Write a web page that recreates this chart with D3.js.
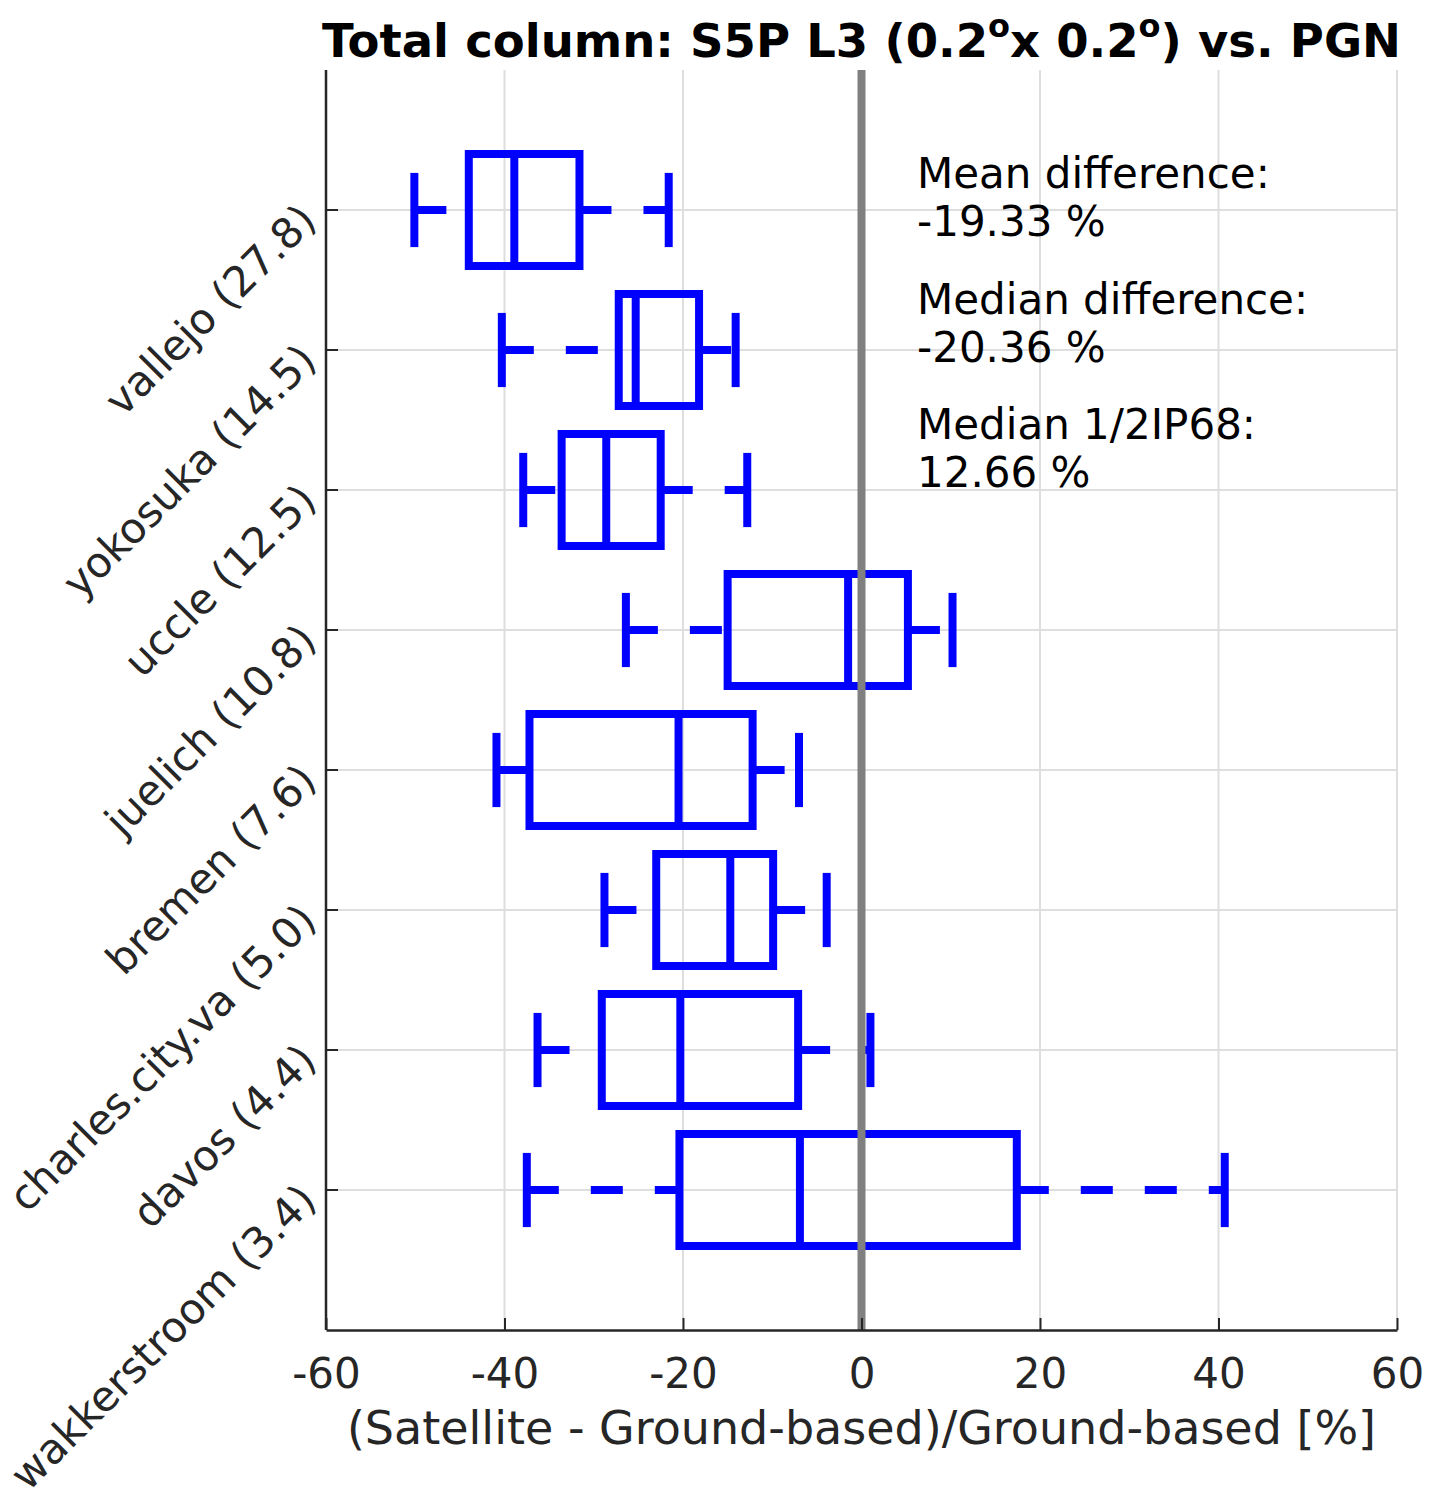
<!DOCTYPE html>
<html>
<head>
<meta charset="utf-8">
<script src="https://cdn.jsdelivr.net/npm/d3@7"></script>
<style>
  body { margin: 0; background: #fff; }
  svg { font-family: "DejaVu Sans", sans-serif; }
</style>
</head>
<body>
<svg id="chart" width="1436" height="1500"></svg>
<script>
// stations, top to bottom (number in brackets is part of the label)
const stations = ['vallejo (27.8)', 'yokosuka (14.5)', 'uccle (12.5)', 'juelich (10.8)',
  'bremen (7.6)', 'charles.city.va (5.0)', 'davos (4.4)', 'wakkerstroom (3.4)'];

// box stats in %
const whiskerLow  = [-50.1, -40.3, -37.9, -26.4, -40.9, -28.8, -36.3, -37.5];
const q1          = [-44.0, -27.2, -33.6, -15.0, -37.2, -23.0, -29.1, -20.4];
const median      = [-38.9, -25.3, -28.6,  -1.5, -20.5, -14.7, -20.3,  -6.9];
const q3          = [-31.6, -18.2, -22.5,   5.2, -12.2,  -9.9,  -7.1,  17.4];
const whiskerHigh = [-21.6, -14.1, -12.8,  10.2,  -7.0,  -3.9,   1.0,  40.7];

const xTicks = [-60, -40, -20, 0, 20, 40, 60];

const statLines = [
  ['Mean difference:', '-19.33 %'],
  ['Median difference:', '-20.36 %'],
  ['Median 1/2IP68:', '12.66 %']
];

const svg = d3.select('#chart');
const pLeft = 326, pRight = 1397, pTop = 70, pBottom = 1330;
const axisColor = '#262626';
const gridColor = '#dedede';
const boxColor = '#0000ff';

const x = d3.scaleLinear().domain([-60, 60]).range([pLeft, pRight]);
const y = d3.scaleLinear().domain([0, stations.length + 1]).range([pTop, pBottom]);

const boxHalf = 0.4, capHalf = 0.265;

// grid
const grid = svg.append('g');
grid.selectAll('.gx').data(xTicks).enter().append('line')
  .attr('x1', d => x(d)).attr('x2', d => x(d))
  .attr('y1', pTop).attr('y2', pBottom)
  .attr('stroke', gridColor).attr('stroke-width', 2);
grid.selectAll('.gy').data(stations).enter().append('line')
  .attr('x1', pLeft).attr('x2', pRight)
  .attr('y1', (d, i) => y(i + 1)).attr('y2', (d, i) => y(i + 1))
  .attr('stroke', gridColor).attr('stroke-width', 2);

// boxes
const rows = svg.append('g').selectAll('g').data(stations).enter().append('g');
rows.each(function (d, i) {
  const g = d3.select(this);
  const yc = y(i + 1);
  const h = y(boxHalf) - y(0), c = y(capHalf) - y(0);
  const line = (x1, y1, x2, y2) => g.append('line')
    .attr('x1', x1).attr('y1', y1).attr('x2', x2).attr('y2', y2)
    .attr('stroke', boxColor).attr('stroke-width', 8);

  // whiskers, dashed (lower one starts at the cap, upper one at the box)
  line(x(whiskerLow[i]), yc, x(q1[i]), yc).attr('stroke-dasharray', '32,32');
  line(x(q3[i]), yc, x(whiskerHigh[i]), yc).attr('stroke-dasharray', '32,32');
  // caps
  line(x(whiskerLow[i]), yc - c, x(whiskerLow[i]), yc + c);
  line(x(whiskerHigh[i]), yc - c, x(whiskerHigh[i]), yc + c);
  // box + median
  g.append('rect')
    .attr('x', x(q1[i])).attr('y', yc - h)
    .attr('width', x(q3[i]) - x(q1[i])).attr('height', 2 * h)
    .attr('fill', 'none').attr('stroke', boxColor).attr('stroke-width', 8);
  line(x(median[i]), yc - h, x(median[i]), yc + h);
});

// zero line
svg.append('line')
  .attr('x1', x(0)).attr('x2', x(0)).attr('y1', pTop).attr('y2', pBottom)
  .attr('stroke', '#808080').attr('stroke-width', 8);

// axes
const xAxis = d3.axisBottom(x).tickValues(xTicks).tickSizeInner(-12).tickSizeOuter(0).tickPadding(20)
  .tickFormat(d => d);
const gx = svg.append('g').attr('transform', `translate(0,${pBottom})`).call(xAxis);
gx.select('.domain').attr('stroke', axisColor).attr('stroke-width', 2.5);
gx.selectAll('.tick line').attr('stroke', axisColor).attr('stroke-width', 2);
gx.selectAll('.tick text').attr('fill', axisColor).attr('font-size', 42)
  .attr('font-family', 'DejaVu Sans').attr('y', 28).attr('dy', '0.71em');

const gy = svg.append('g');
gy.append('line').attr('x1', pLeft).attr('x2', pLeft).attr('y1', pTop).attr('y2', pBottom)
  .attr('stroke', axisColor).attr('stroke-width', 2.5);
gy.selectAll('.yt').data(stations).enter().append('line')
  .attr('x1', pLeft).attr('x2', pLeft + 12)
  .attr('y1', (d, i) => y(i + 1)).attr('y2', (d, i) => y(i + 1))
  .attr('stroke', axisColor).attr('stroke-width', 2);
gy.selectAll('.yl').data(stations).enter().append('text')
  .attr('transform', (d, i) => `translate(${pLeft - 18},${y(i + 1) + 2}) rotate(-45)`)
  .attr('text-anchor', 'end').attr('dy', '0.35em')
  .attr('fill', axisColor).attr('font-size', 42)
  .text(d => d);

// x label
svg.append('text')
  .attr('x', (pLeft + pRight) / 2).attr('y', 1444)
  .attr('text-anchor', 'middle').attr('fill', axisColor).attr('font-size', 46)
  .text('(Satellite - Ground-based)/Ground-based [%]');

// title
const title = svg.append('text')
  .attr('x', (pLeft + pRight) / 2).attr('y', 57)
  .attr('text-anchor', 'middle').attr('font-weight', 'bold').attr('font-size', 46.5)
  .attr('fill', '#000');
title.append('tspan').text('Total column: S5P L3 (0.2');
title.append('tspan').attr('dy', -20).attr('font-size', 32).text('o');
title.append('tspan').attr('dy', 20).text('x 0.2');
title.append('tspan').attr('dy', -20).attr('font-size', 32).text('o');
title.append('tspan').attr('dy', 20).text(') vs. PGN');

// stats text
const stats = svg.append('g');
statLines.forEach((pair, k) => {
  pair.forEach((s, j) => {
    stats.append('text')
      .attr('x', 917).attr('y', 188 + k * 125.5 + j * 48)
      .attr('font-size', 42).attr('fill', '#000')
      .text(s);
  });
});
</script>
</body>
</html>
